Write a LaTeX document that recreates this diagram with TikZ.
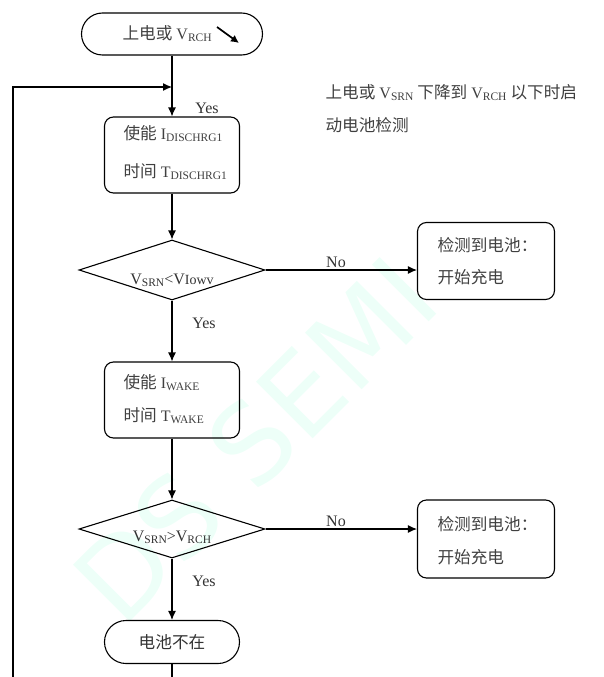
\documentclass[tikz,border=0pt]{standalone}
\usepackage{fontspec}
\setmainfont{Liberation Serif}
\newfontfamily\cjk{Noto Sans CJK SC}[Scale=1.04]
\setsansfont{DejaVu Sans}
\usetikzlibrary{shapes.geometric,shapes.misc,arrows.meta}
\newcommand{\sbs}[1]{\raisebox{-2pt}{\fontsize{11.5}{12}\selectfont #1}}
\begin{document}
\begin{tikzpicture}[x=1pt,y=-1pt,
  line width=1.1pt,
  every node/.style={font=\fontsize{16}{19}\selectfont, text=black!80},
  term/.style={draw, rounded rectangle, minimum width=#1, minimum height=42pt, inner sep=0pt},
  procbox/.style={draw, rounded corners=9pt, minimum width=135pt, minimum height=76pt, inner sep=0pt},
  resbox/.style={draw, rounded corners=9pt, minimum width=137pt, minimum height=77pt, inner sep=0pt},
  decide/.style={draw, diamond, minimum width=186pt, minimum height=60pt, inner sep=0pt},
  arr/.style={-{Latex[length=9pt,width=8pt]}},
  lbl/.style={font=\fontsize{16}{19}\selectfont},
  line/.style={text=black!75, anchor=west, inner sep=0pt}
]
\useasboundingbox (0,0) rectangle (603,677);
% watermark
\node[rotate=45, font=\sffamily\fontsize{110}{110}\selectfont, text=green!40!cyan!7] (wm) at (255,440) {DS SEMI};

% start
\node[term=181pt] (start) at (172,34) {};
\node[line] (startt) at (122,34) {{\cjk 上电或} V\sbs{RCH}};
\coordinate (arrA) at (217,27);
\coordinate (arrB) at (239,43);
\draw[line width=1.7pt,-{Latex[length=8pt,width=8pt]}] (arrA) -- (arrB);

% note
\node[line] (n1) at (325,93) {{\cjk 上电或} V\sbs{SRN} {\cjk 下降到} V\sbs{RCH} {\cjk 以下时启}};
\node[line] (n2) at (325,125) {\cjk 动电池检测};

% box 1
\node[procbox] (b1) at (172,155) {};
\node[line] (b1t1) at (123,134) {{\cjk 使能} I\sbs{DISCHRG1}};
\node[line] (b1t2) at (123,172) {{\cjk 时间} T\sbs{DISCHRG1}};

% diamond 1
\node[decide] (d1) at (172,270) {};
\node[inner sep=0pt] (d1t) at (172,280) {V\sbs{SRN}<V{\fontsize{14}{14}\selectfont Iowv}};

% result 1
\node[resbox] (r1) at (486,261) {};
\node[line] (r1t1) at (437,245) {\cjk 检测到电池：};
\node[line] (r1t2) at (437,277) {\cjk 开始充电};

% box 2
\node[procbox] (b2) at (172,400) {};
\node[line] (b2t1) at (123,383) {{\cjk 使能} I\sbs{WAKE}};
\node[line] (b2t2) at (123,416) {{\cjk 时间} T\sbs{WAKE}};

% diamond 2
\node[decide, minimum height=58pt] (d2) at (172,529) {};
\node[inner sep=0pt] (d2t) at (172,537) {V\sbs{SRN}>V\sbs{RCH}};

% result 2
\node[resbox, minimum height=78pt] (r2) at (486,539) {};
\node[line] (r2t1) at (437,524) {\cjk 检测到电池：};
\node[line] (r2t2) at (437,557) {\cjk 开始充电};

% end
\node[term=135pt, minimum height=43pt] (stop) at (172,642) {\cjk 电池不在};

% connectors
\coordinate (jn) at (172,87);
\coordinate (lc) at (13,87);
\coordinate (lb) at (13,678);
\coordinate (bb) at (172,678);
\draw (start.south) -- (jn);
\draw[arr] (jn) -- (b1.north);
\draw[arr] (lb) -- (lc) -- (jn);
\draw[arr] (b1.south) -- (d1.north);
\draw[arr] (d1.east) -- (d1.east -| r1.west);
\draw[arr] (d1.south) -- (b2.north);
\draw[arr] (b2.south) -- (d2.north);
\draw[arr] (d2.east) -- (d2.east -| r2.west);
\draw[arr] (d2.south) -- (stop.north);
\draw (stop.south) -- (bb);

% labels
\node[lbl] (y1) at (207,108) {Yes};
\node[lbl] (no1) at (336,262) {No};
\node[lbl] (y2) at (204,323) {Yes};
\node[lbl] (no2) at (336,521) {No};
\node[lbl] (y3) at (204,581) {Yes};
\end{tikzpicture}
\end{document}
